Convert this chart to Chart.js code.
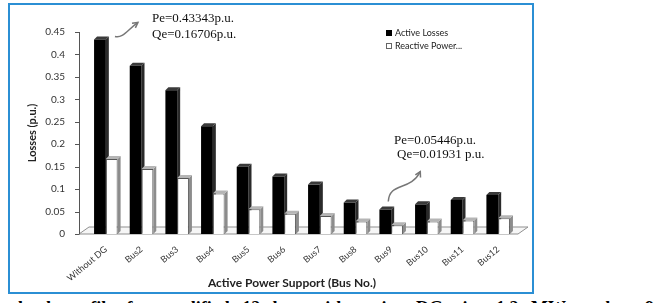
<!DOCTYPE html>
<html>
<head>
<meta charset="utf-8">
<script src="https://cdn.jsdelivr.net/npm/chart.js@4.4.1/dist/chart.umd.min.js"></script>
<style>
  html, body { margin: 0; padding: 0; background: #fff; width: 655px; height: 303px; overflow: hidden; position: relative; }
  #frame { position: absolute; left: 8px; top: 3px; width: 522px; height: 287px; border: 2px solid #2b8fd4; background: #fff; }
  #frame canvas { display: block; }
  #caption { position: absolute; left: 18px; top: 299px; width: 636px; font: bold 18px "Liberation Serif", "Times New Roman", serif; line-height: 18px; color: #000; text-align: justify; text-align-last: justify; white-space: nowrap; }
</style>
</head>
<body>
<div id="frame"><canvas id="chart" width="522" height="287"></canvas></div>
<div id="caption">load profile for modified 12 bus with active DG size 1.2 MW at bus 9</div>
<script>
const categories = ['Without DG', 'Bus2', 'Bus3', 'Bus4', 'Bus5', 'Bus6', 'Bus7', 'Bus8', 'Bus9', 'Bus10', 'Bus11', 'Bus12'];
const activeLosses = [0.43343, 0.375, 0.32, 0.24, 0.15, 0.128, 0.11, 0.07, 0.05446, 0.066, 0.076, 0.087];
const reactiveLosses = [0.16706, 0.145, 0.125, 0.09, 0.055, 0.045, 0.04, 0.028, 0.01931, 0.028, 0.03, 0.035];
const seriesNames = ['Active Losses', 'Reactive Power...'];
const noteMax = ['Pe=0.43343p.u.', 'Qe=0.16706p.u.'];
const noteMin = ['Pe=0.05446p.u.', 'Qe=0.01931 p.u.'];

const sideColors = ['#2a2a2a', '#8c8c8c'];
const topColors = ['#3a3a3a', '#b5b5b5'];

const arrow = (ctx, pts) => {
    const [s, c1, c2, e] = pts;
    ctx.beginPath();
    ctx.moveTo(s[0], s[1]);
    ctx.bezierCurveTo(c1[0], c1[1], c2[0], c2[1], e[0], e[1]);
    ctx.stroke();
    const a = Math.atan2(e[1] - c2[1], e[0] - c2[0]);
    ctx.beginPath();
    ctx.moveTo(e[0] - 6 * Math.cos(a - 0.5), e[1] - 6 * Math.sin(a - 0.5));
    ctx.lineTo(e[0], e[1]);
    ctx.lineTo(e[0] - 6 * Math.cos(a + 0.5), e[1] - 6 * Math.sin(a + 0.5));
    ctx.stroke();
}

const decor = {
    id: 'decor',
    beforeDatasetsDraw(chart) {
        const { ctx, chartArea, scales: { y } } = chart;
        const base = y.getPixelForValue(0);
        const axisX = chartArea.left - 9;
        ctx.save();
        // floor
        ctx.strokeStyle = '#8f8f8f';
        ctx.lineWidth = 1;
        ctx.fillStyle = '#f6f6f6';
        ctx.beginPath();
        ctx.moveTo(axisX, base);
        ctx.lineTo(chartArea.right + 2, base);
        ctx.lineTo(chartArea.right + 12, base - 7);
        ctx.lineTo(axisX + 10, base - 7);
        ctx.closePath();
        ctx.fill();
        ctx.stroke();
        // 3d sides and tops of the bars
        chart.data.datasets.forEach((ds, i) => {
            chart.getDatasetMeta(i).data.forEach(bar => {
                const p = bar.getProps(['x', 'y', 'width', 'base'], true);
                const l = p.x - p.width / 2, r = p.x + p.width / 2, d = 3;
                ctx.fillStyle = sideColors[i];
                ctx.beginPath();
                ctx.moveTo(r, p.y); ctx.lineTo(r + d, p.y - d); ctx.lineTo(r + d, p.base - d); ctx.lineTo(r, p.base);
                ctx.closePath();
                ctx.fill();
                ctx.fillStyle = topColors[i];
                ctx.beginPath();
                ctx.moveTo(l, p.y); ctx.lineTo(l + d, p.y - d); ctx.lineTo(r + d, p.y - d); ctx.lineTo(r, p.y);
                ctx.closePath();
                ctx.fill();
            });
        });
        ctx.restore();
    },
    afterDraw(chart) {
        const { ctx, chartArea, scales: { y } } = chart;
        const base = y.getPixelForValue(0);
        const axisX = chartArea.left - 9;
        ctx.save();
        // value axis line with tick marks
        ctx.strokeStyle = '#555';
        ctx.lineWidth = 1;
        ctx.beginPath();
        ctx.moveTo(axisX + 0.5, y.getPixelForValue(y.max));
        ctx.lineTo(axisX + 0.5, base);
        y.ticks.forEach(t => {
            const py = Math.round(y.getPixelForValue(t.value)) + 0.5;
            ctx.moveTo(axisX - 4, py);
            ctx.lineTo(axisX + 0.5, py);
        });
        ctx.stroke();

        // legend
        ctx.font = '9px Lato, sans-serif';
        ctx.textBaseline = 'middle';
        ctx.fillStyle = '#000';
        ctx.fillRect(376, 25, 6, 6);
        ctx.strokeStyle = '#666';
        ctx.strokeRect(376.5, 38.5, 5, 5);
        ctx.fillStyle = '#222';
        ctx.fillText(seriesNames[0], 385, 28);
        ctx.fillText(seriesNames[1], 385, 41);

        // x axis title
        ctx.font = 'bold 12px Lato, sans-serif';
        ctx.textAlign = 'center';
        ctx.fillText('Active Power Support (Bus No.)', 282, 278);

        // notes
        ctx.font = '13px "Liberation Serif", serif';
        ctx.textAlign = 'left';
        ctx.fillStyle = '#111';
        ctx.fillText(noteMax[0], 142, 14);
        ctx.fillText(noteMax[1], 142, 30);
        ctx.fillText(noteMin[0], 384, 136);
        ctx.fillText(noteMin[1], 387, 150);

        const bars = chart.getDatasetMeta(0).data;
        const b0 = bars[0].getProps(['x', 'y', 'width'], true);
        const b8 = bars[8].getProps(['x', 'y', 'width'], true);
        ctx.strokeStyle = '#777';
        ctx.lineWidth = 1.5;
        const s1 = [b0.x + 15, b0.y - 3];
        arrow(ctx, [s1, [s1[0] + 8, s1[1] + 2], [s1[0] + 12, s1[1] - 6], [s1[0] + 23, s1[1] - 14]]);
        const s2 = [b8.x + 3, b8.y - 8];
        arrow(ctx, [s2, [s2[0] + 1, s2[1] - 20], [s2[0] + 22, s2[1] - 10], [s2[0] + 32, s2[1] - 30]]);
        ctx.restore();
    }
};

const ctx = document.getElementById('chart');
const myChart = new Chart(ctx, {
    type: 'bar',
    data: {
        labels: categories,
        datasets: [
            {
                label: seriesNames[0],
                data: activeLosses,
                backgroundColor: '#000',
                borderWidth: 0
            },
            {
                label: seriesNames[1],
                data: reactiveLosses,
                backgroundColor: '#fff',
                borderColor: '#555',
                borderWidth: 1
            }
        ]
    },
    options: {
        responsive: false,
        animation: false,
        devicePixelRatio: 1,
        categoryPercentage: 0.66,
        barPercentage: 1,
        layout: { padding: { top: 27, right: 16, left: 0, bottom: 0 } },
        plugins: {
            legend: { display: false },
            tooltip: { enabled: false }
        },
        scales: {
            x: {
                grid: { display: false },
                border: { display: false },
                ticks: {
                    autoSkip: false,
                    minRotation: 40,
                    maxRotation: 40,
                    padding: 2,
                    color: '#333',
                    font: { family: 'Lato, sans-serif', size: 9 }
                },
                afterFit: s => { s.height = 58; }
            },
            y: {
                min: 0,
                max: 0.45,
                grid: { display: false },
                border: { display: false },
                ticks: {
                    stepSize: 0.05,
                    padding: 15,
                    color: '#333',
                    font: { family: 'Lato, sans-serif', size: 10 },
                    callback: v => String(+v.toFixed(2))
                },
                title: {
                    display: true,
                    text: 'Losses (p.u.)',
                    color: '#222',
                    font: { family: 'Lato, sans-serif', size: 11, weight: 'bold' },
                    padding: { top: 16, bottom: 0 }
                },
                afterFit: s => { s.width = 78; }
            }
        }
    },
    plugins: [decor]
});
</script>
</body>
</html>
